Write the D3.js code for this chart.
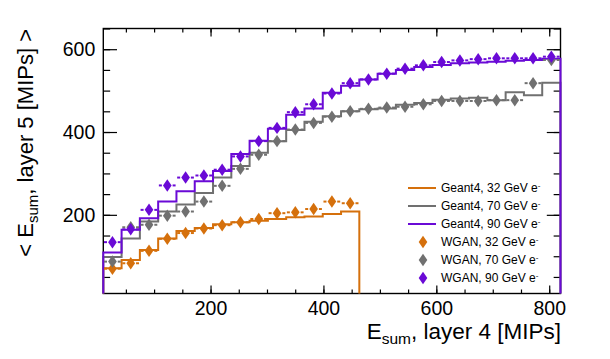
<!DOCTYPE html>
<html>
<head>
<meta charset="utf-8">
<script src="https://cdn.jsdelivr.net/npm/d3@7"></script>
<style>
  body { margin: 0; background: #fff; }
  svg { display: block; font-family: "Liberation Sans", Arial, Helvetica, sans-serif; }
</style>
</head>
<body>
<div id="chart"></div>
<script>
// bin edges of the E_sum layer 4 histogram (25 bins)
const binEdges = [10, 42.4, 74.8, 107.2, 139.6, 172, 204.4, 236.8, 269.2, 301.6, 334, 366.4, 398.8,
  431.2, 463.6, 496, 528.4, 560.8, 593.2, 625.6, 658, 690.4, 722.8, 755.2, 787.6, 820];

// Geant4 profiles (step lines)
const geant32 = [71, 91, 115, 143, 161, 168, 177, 182, 186, 190, 194, 196, 202, 208];
const geant70 = [98, 143, 184, 208, 225, 253, 290, 318, 350, 378, 405, 425, 438, 450, 455, 457,
  466, 470, 478, 481, 483, 477, 496, 489, 519];
const geant90 = [109, 164, 192, 232, 257, 281, 306, 347, 379, 408, 442, 457, 495, 512, 527, 541,
  550, 557, 562, 566, 568, 570, 572, 574, 577];

// WGAN profiles (markers)
const wgan32 = [70, 83, 113, 142, 156, 167, 175, 182, 190, 204, 206, 214, 232, 228];
const wgan70 = [87, 170, 176, 198, 208, 232, 270, 311, 345, 378, 406, 422, 437, 450, 456, 459,
  461, 467, 475, 475, 475, 477, 477, 518, 574];
const wgan90 = [134, 165, 212, 271, 290, 295, 309, 341, 378, 410, 448, 467, 493, 518, 527, 541,
  553, 561, 569, 573, 576, 578, 578, 578, 582];

const xTicks = [200, 400, 600, 800];
const yTicks = [200, 400, 600];
const xMinor = d3.range(50, 801, 50);
const yMinor = d3.range(50, 651, 50);

const colors = { c32: "#d5700c", c70: "#707070", c90: "#6a0ad6" };

const width = 610, height = 359;
const frameL = 103.3, frameR = 560.5, frameT = 28.5, frameB = 293.5;

const svg = d3.select("#chart").append("svg")
  .attr("width", width)
  .attr("height", height);

const x = d3.scaleLinear().domain([10, 820]).range([frameL, frameR]);
const y = d3.scaleLinear().domain([10, 650]).range([frameB, frameT]);

// axes, ROOT style: ticks inside on all four sides
function styleAxis(g) {
  g.select(".domain").remove();
  g.selectAll(".tick line").attr("stroke", "#000").attr("stroke-width", 1.2);
  g.selectAll(".tick text").attr("fill", "#000").style("font-size", "19.5px");
}
const xLen = 8, yLen = 13.7;
svg.append("g").attr("transform", `translate(0,${frameB})`)
  .call(d3.axisBottom(x).tickValues(xMinor).tickSize(-xLen / 2).tickFormat(""))
  .call(styleAxis);
svg.append("g").attr("transform", `translate(0,${frameB})`)
  .call(d3.axisBottom(x).tickValues(xTicks).tickSize(-xLen).tickPadding(7.5).tickFormat(d3.format("d")))
  .call(styleAxis);
svg.append("g").attr("transform", `translate(0,${frameT})`)
  .call(d3.axisTop(x).tickValues(xMinor).tickSize(-xLen / 2).tickFormat(""))
  .call(styleAxis);
svg.append("g").attr("transform", `translate(0,${frameT})`)
  .call(d3.axisTop(x).tickValues(xTicks).tickSize(-xLen).tickFormat(""))
  .call(styleAxis);
svg.append("g").attr("transform", `translate(${frameL},0)`)
  .call(d3.axisLeft(y).tickValues(yMinor).tickSize(-yLen / 2).tickFormat(""))
  .call(styleAxis);
svg.append("g").attr("transform", `translate(${frameL},0)`)
  .call(d3.axisLeft(y).tickValues(yTicks).tickSize(-yLen).tickPadding(8).tickFormat(d3.format("d")))
  .call(styleAxis);
svg.append("g").attr("transform", `translate(${frameR},0)`)
  .call(d3.axisRight(y).tickValues(yMinor).tickSize(-yLen / 2).tickFormat(""))
  .call(styleAxis);
svg.append("g").attr("transform", `translate(${frameR},0)`)
  .call(d3.axisRight(y).tickValues(yTicks).tickSize(-yLen).tickFormat(""))
  .call(styleAxis);

svg.append("rect")
  .attr("x", frameL).attr("y", frameT)
  .attr("width", frameR - frameL).attr("height", frameB - frameT)
  .attr("fill", "none").attr("stroke", "#000").attr("stroke-width", 1.4);

// histograms as step lines
const line = d3.line();
function stepPoints(vals) {
  const pts = [[x(binEdges[0]), y(10)]];
  vals.forEach((v, i) => {
    pts.push([x(binEdges[i]), y(v)]);
    pts.push([x(binEdges[i + 1]), y(v)]);
  });
  pts.push([x(binEdges[vals.length]), y(10)]);
  return pts;
}
[[geant32, colors.c32], [geant70, colors.c70], [geant90, colors.c90]].forEach(([vals, c]) => {
  svg.append("path")
    .attr("d", line(stepPoints(vals)))
    .attr("fill", "none")
    .attr("stroke", c)
    .attr("stroke-width", 2);
});

// WGAN markers with horizontal bin-width bars
const diamond = d3.symbol(d3.symbolDiamond, 45)();
function drawMarkers(vals, c) {
  const g = svg.append("g");
  vals.forEach((v, i) => {
    const cx = x((binEdges[i] + binEdges[i + 1]) / 2);
    const x0 = x(binEdges[i]), x1 = x(binEdges[i + 1]);
    const cy = y(v);
    g.append("line").attr("x1", x0 + 0.7).attr("x2", cx - 5.3).attr("y1", cy).attr("y2", cy)
      .attr("stroke", c).attr("stroke-width", 2).attr("stroke-dasharray", "3,1.5");
    g.append("line").attr("x1", cx + 5.3).attr("x2", x1 - 0.7).attr("y1", cy).attr("y2", cy)
      .attr("stroke", c).attr("stroke-width", 2).attr("stroke-dasharray", "3,1.5");
    g.append("path").attr("d", diamond)
      .attr("transform", `translate(${cx},${cy}) scale(1.2,1)`)
      .attr("fill", c);
  });
}
drawMarkers(wgan32, colors.c32);
drawMarkers(wgan70, colors.c70);
drawMarkers(wgan90, colors.c90);

// legend
const legendItems = [
  { label: "Geant4, 32 GeV e", color: colors.c32, type: "line" },
  { label: "Geant4, 70 GeV e", color: colors.c70, type: "line" },
  { label: "Geant4, 90 GeV e", color: colors.c90, type: "line" },
  { label: "WGAN, 32 GeV e", color: colors.c32, type: "marker" },
  { label: "WGAN, 70 GeV e", color: colors.c70, type: "marker" },
  { label: "WGAN, 90 GeV e", color: colors.c90, type: "marker" }
];
const lg = svg.append("g");
legendItems.forEach((d, i) => {
  const ly = 188 + 18 * i;
  if (d.type === "line") {
    lg.append("line").attr("x1", 408).attr("x2", 436).attr("y1", ly).attr("y2", ly)
      .attr("stroke", d.color).attr("stroke-width", 2);
  } else {
    lg.append("path").attr("d", diamond)
      .attr("transform", `translate(423,${ly}) scale(1.2,1)`)
      .attr("fill", d.color);
  }
  const t = lg.append("text").attr("x", 441).attr("y", ly + 4.3)
    .style("font-size", "12px").attr("fill", "#000");
  t.append("tspan").text(d.label);
  t.append("tspan").attr("dy", -4.8).style("font-size", "8px").text("-");
});

// axis titles
const xt = svg.append("text")
  .attr("x", 561).attr("y", 338.5)
  .attr("text-anchor", "end")
  .style("font-size", "22.5px").attr("fill", "#000");
xt.append("tspan").text("E");
xt.append("tspan").attr("dy", 5).style("font-size", "15.5px").text("sum");
xt.append("tspan").attr("dy", -5).text(", layer 4 [MIPs]");

const yt = svg.append("text")
  .attr("transform", "translate(33,29) rotate(-90)")
  .attr("text-anchor", "end")
  .style("font-size", "22px").attr("fill", "#000");
yt.append("tspan").text("< E");
yt.append("tspan").attr("dy", 5).style("font-size", "15px").text("sum");
yt.append("tspan").attr("dy", -5).text(", layer 5 [MIPs] >");
</script>
</body>
</html>
